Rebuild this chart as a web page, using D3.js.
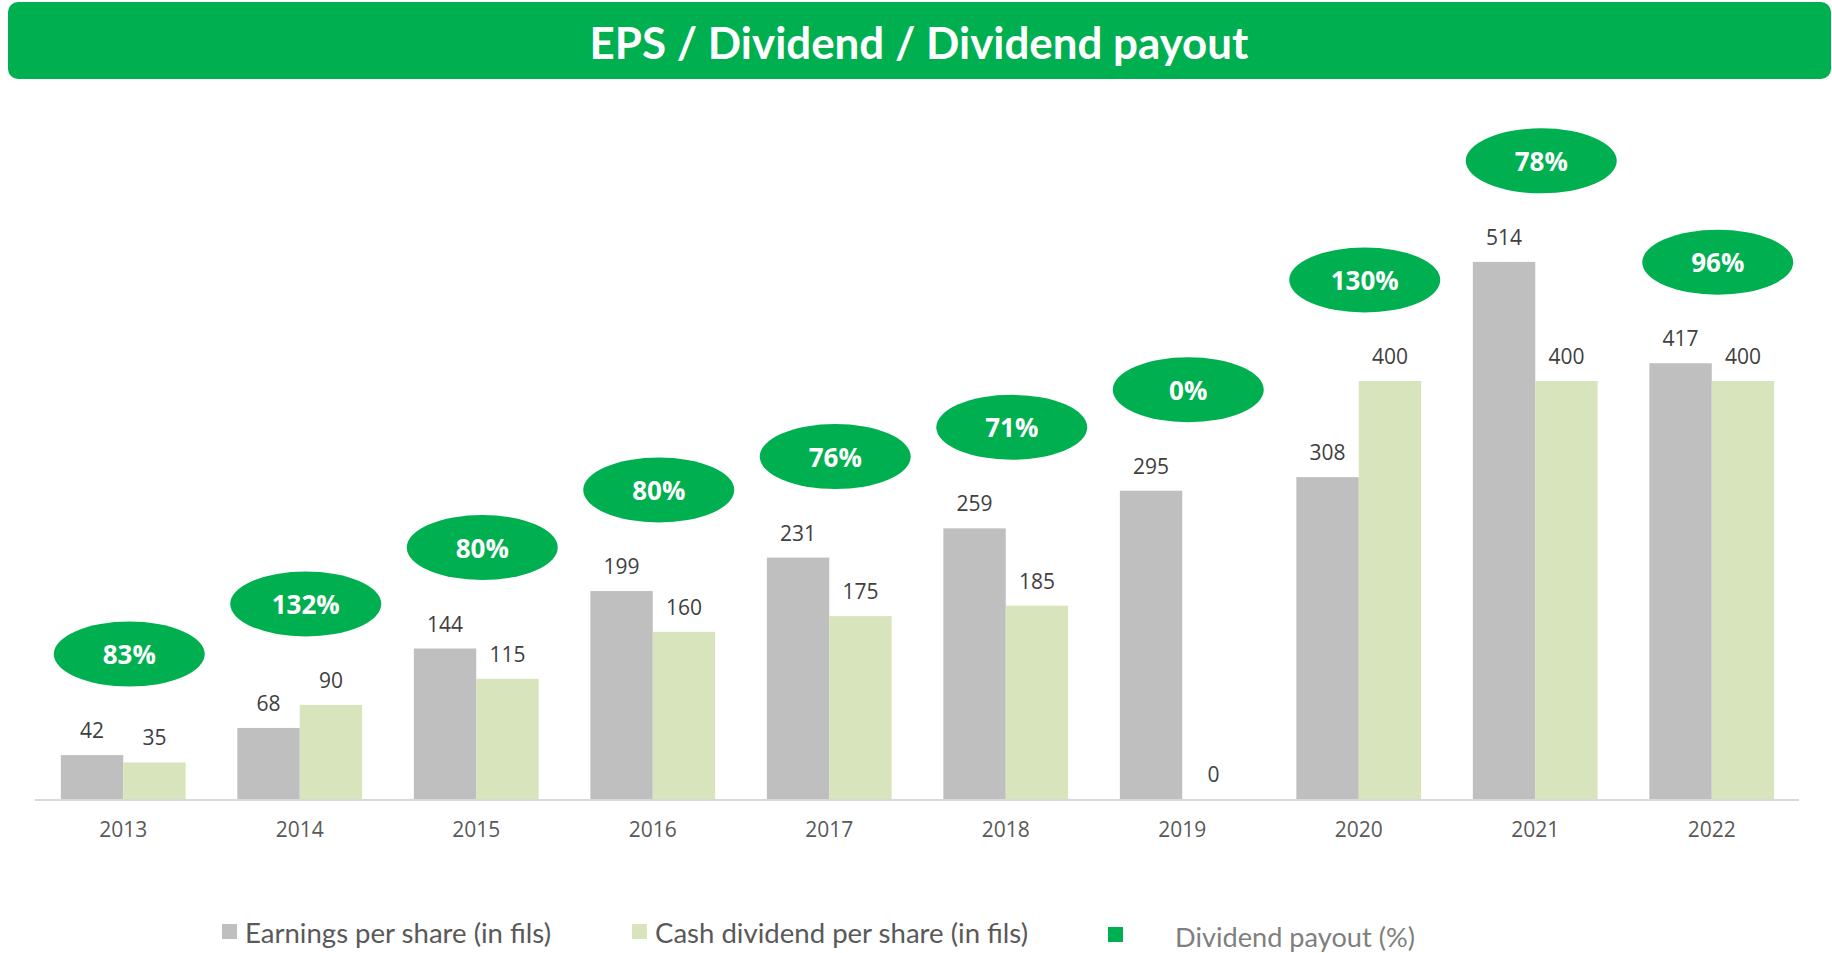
<!DOCTYPE html>
<html><head><meta charset="utf-8">
<script src="https://cdn.jsdelivr.net/npm/d3@7"></script>
<style>html,body{margin:0;padding:0;background:#fff;overflow:hidden}</style>
</head><body>
<svg id="chart" width="1832" height="953"></svg>
<script>
const years = ["2013","2014","2015","2016","2017","2018","2019","2020","2021","2022"];
const eps = [42, 68, 144, 199, 231, 259, 295, 308, 514, 417];
const dividend = [35, 90, 115, 160, 175, 185, 0, 400, 400, 400];
const payout = ["83%","132%","80%","80%","76%","71%","0%","130%","78%","96%"];
const seriesNames = ["Earnings per share (in fils)", "Cash dividend per share (in fils)", "Dividend payout (%)"];
const titleText = "EPS / Dividend / Dividend payout";

const GREEN = "#00B050", GREY = "#BFBFBF", LIGHT = "#D8E4BC";
const svg = d3.select("#chart");

// title bar
svg.append("rect").attr("x", 8).attr("y", 2).attr("width", 1823).attr("height", 77)
  .attr("rx", 10).attr("fill", GREEN);
const title = svg.append("text").attr("x", 919).attr("y", 42)
  .attr("text-anchor", "middle").attr("dominant-baseline", "central")
  .attr("fill", "#fff").attr("font-family", "Lato, 'Open Sans', sans-serif")
  .attr("font-weight", "bold").attr("font-size", 40).text(titleText);
function fit(sel, target) {
  const w = sel.node().getComputedTextLength();
  const fs = +sel.attr("font-size");
  sel.attr("font-size", (fs * target / w).toFixed(2));
}
fit(title, 659);

const x = d3.scaleBand().domain(years).range([35, 1800]).paddingInner(0.293).paddingOuter(0.1465);
const sub = d3.scaleBand().domain([0, 1]).range([0, x.bandwidth()]);
const y = d3.scaleLinear().domain([0, 600]).range([799, 799 - 600 * 1.045]);

const data = years.map((yr, i) => ({yr, eps: eps[i], div: dividend[i], p: payout[i]}));

const g = svg.append("g");
// bars
g.selectAll(".eps").data(data).join("rect")
  .attr("x", d => x(d.yr) + sub(0)).attr("width", sub.bandwidth())
  .attr("y", d => y(d.eps)).attr("height", d => y(0) - y(d.eps)).attr("fill", GREY);
g.selectAll(".div").data(data).join("rect")
  .attr("x", d => x(d.yr) + sub(1)).attr("width", sub.bandwidth())
  .attr("y", d => y(d.div)).attr("height", d => y(0) - y(d.div)).attr("fill", LIGHT);

// axis line
svg.append("line").attr("x1", 35).attr("x2", 1799).attr("y1", y(0) + 1).attr("y2", y(0) + 1)
  .attr("stroke", "#D9D9D9").attr("stroke-width", 2);

// x axis labels
const xAxis = d3.axisBottom(x).tickSize(0).tickPadding(0);
const ax = svg.append("g").attr("transform", `translate(0,${y(0) + 31})`).call(xAxis);
ax.select(".domain").remove();
ax.selectAll("text").attr("dy", "0.35em").attr("y", 0)
  .attr("font-family", "'Open Sans', sans-serif").attr("font-size", 21).attr("fill", "#595959");

// value labels
const lblFont = {"font-family": "'Open Sans', sans-serif", "font-size": 21, "fill": "#404040"};
function applyFont(sel, f) { Object.entries(f).forEach(([k, v]) => sel.attr(k, v)); return sel; }
applyFont(g.selectAll(".le").data(data).join("text")
  .attr("x", d => x(d.yr) + sub(0) + sub.bandwidth() / 2).attr("y", d => y(d.eps) - 25)
  .attr("text-anchor", "middle").attr("dominant-baseline", "central").text(d => d.eps), lblFont);
applyFont(g.selectAll(".ld").data(data).join("text")
  .attr("x", d => x(d.yr) + sub(1) + sub.bandwidth() / 2).attr("y", d => y(d.div) - 25)
  .attr("text-anchor", "middle").attr("dominant-baseline", "central").text(d => d.div), lblFont);

// payout ellipses
const eg = g.selectAll(".pe").data(data).join("g")
  .attr("transform", d => `translate(${x(d.yr) + x.bandwidth() / 2 + 6},${y(Math.max(d.eps, d.div)) - 101})`);
eg.append("ellipse").attr("rx", 75.5).attr("ry", 32.5).attr("fill", GREEN);
eg.append("text").attr("text-anchor", "middle").attr("dominant-baseline", "central")
  .attr("font-family", "'Open Sans', sans-serif").attr("font-weight", "bold")
  .attr("font-size", 26).attr("fill", "#fff").text(d => d.p);

// legend
const legend = [
  {name: seriesNames[0], color: GREY, sx: 222, sy: 924, tx: 245, tw: 306, ty: 932, tc: "#595959"},
  {name: seriesNames[1], color: LIGHT, sx: 632, sy: 924, tx: 655, tw: 373, ty: 932, tc: "#595959"},
  {name: seriesNames[2], color: GREEN, sx: 1108, sy: 927, tx: 1175, tw: 240, ty: 936, tc: "#7F7F7F"}
];
const lg = svg.append("g");
legend.forEach(l => {
  lg.append("rect").attr("x", l.sx).attr("y", l.sy).attr("width", 15).attr("height", 15).attr("fill", l.color);
  const t = lg.append("text").attr("x", l.tx).attr("y", l.ty).attr("dominant-baseline", "central")
    .attr("font-family", "Lato, 'Open Sans', sans-serif").attr("font-size", 24).attr("fill", l.tc).text(l.name);
  fit(t, l.tw);
});
</script>
</body></html>
